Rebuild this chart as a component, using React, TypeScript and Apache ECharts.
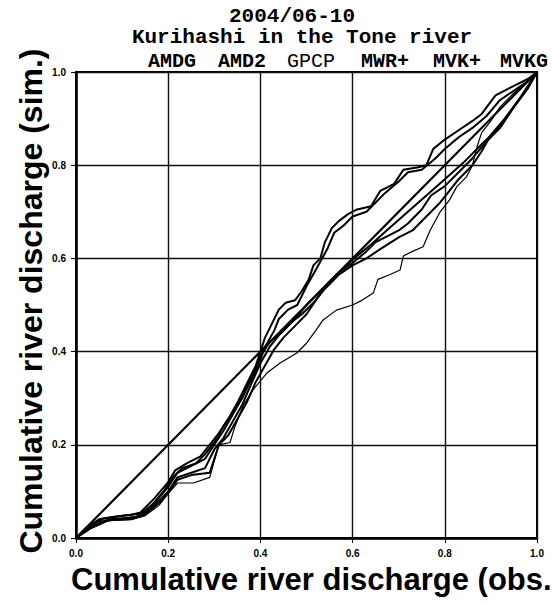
import React, { useEffect, useRef } from "react";
import * as echarts from "echarts";

type Pt = [number, number];

const titleLine1 = "2004/06-10";
const titleLine2 = "Kurihashi in the Tone river";
const xTitle = "Cumulative river discharge (obs.";
const yTitle = "Cumulative river discharge (sim.)";
const legendLabels = ["AMDG", "AMD2", "GPCP", "MWR+", "MVK+", "MVKG"];
const legendCenters = [172, 242, 311, 385, 457, 524];
const legendBold = [true, true, false, true, true, true];

const diagonal: Pt[] = [[0, 0], [1, 1]];

const amdg: Pt[] = [[0,0],[0.02,0.02],[0.05,0.04],[0.08,0.045],[0.12,0.05],[0.14,0.055],[0.17,0.085],[0.2,0.12],[0.215,0.145],[0.24,0.16],[0.27,0.175],[0.29,0.2],[0.31,0.225],[0.33,0.255],[0.35,0.29],[0.37,0.33],[0.39,0.37],[0.4,0.4],[0.41,0.43],[0.425,0.46],[0.44,0.49],[0.455,0.505],[0.475,0.51],[0.49,0.53],[0.505,0.555],[0.515,0.585],[0.53,0.6],[0.54,0.635],[0.555,0.665],[0.57,0.68],[0.59,0.695],[0.61,0.705],[0.64,0.712],[0.66,0.745],[0.69,0.76],[0.71,0.79],[0.74,0.795],[0.76,0.8],[0.775,0.835],[0.8,0.855],[0.83,0.875],[0.86,0.895],[0.88,0.91],[0.91,0.95],[0.95,0.97],[0.98,0.985],[1,1]];

const amd2: Pt[] = [[0,0],[0.02,0.015],[0.05,0.035],[0.09,0.04],[0.13,0.045],[0.16,0.065],[0.19,0.1],[0.21,0.13],[0.23,0.15],[0.26,0.16],[0.28,0.18],[0.3,0.205],[0.32,0.24],[0.34,0.27],[0.36,0.3],[0.38,0.34],[0.395,0.37],[0.41,0.41],[0.43,0.445],[0.44,0.47],[0.46,0.49],[0.48,0.5],[0.5,0.54],[0.52,0.575],[0.545,0.62],[0.56,0.655],[0.58,0.67],[0.6,0.69],[0.63,0.7],[0.65,0.72],[0.67,0.74],[0.7,0.765],[0.72,0.785],[0.75,0.79],[0.78,0.815],[0.8,0.835],[0.83,0.86],[0.86,0.88],[0.89,0.905],[0.92,0.94],[0.95,0.96],[0.98,0.98],[1,1]];

const gpcp: Pt[] = [[0,0],[0.03,0.02],[0.07,0.037],[0.12,0.04],[0.15,0.048],[0.18,0.07],[0.2,0.095],[0.22,0.118],[0.255,0.118],[0.29,0.13],[0.31,0.2],[0.334,0.205],[0.345,0.24],[0.363,0.285],[0.384,0.318],[0.414,0.354],[0.442,0.375],[0.479,0.397],[0.5,0.418],[0.52,0.445],[0.536,0.468],[0.565,0.489],[0.6,0.5],[0.62,0.51],[0.645,0.526],[0.655,0.555],[0.68,0.565],[0.703,0.575],[0.71,0.605],[0.73,0.615],[0.753,0.625],[0.768,0.66],[0.79,0.7],[0.81,0.725],[0.826,0.754],[0.847,0.775],[0.86,0.8],[0.87,0.84],[0.88,0.87],[0.9,0.895],[0.92,0.925],[0.95,0.955],[0.98,0.98],[1,1]];

const mwrp: Pt[] = [[0,0],[0.03,0.025],[0.06,0.042],[0.1,0.048],[0.14,0.052],[0.17,0.075],[0.2,0.11],[0.22,0.14],[0.25,0.155],[0.28,0.17],[0.3,0.2],[0.32,0.23],[0.34,0.265],[0.36,0.3],[0.38,0.345],[0.4,0.39],[0.42,0.42],[0.45,0.445],[0.48,0.475],[0.5,0.5],[0.53,0.53],[0.56,0.56],[0.6,0.597],[0.64,0.63],[0.68,0.665],[0.72,0.7],[0.76,0.735],[0.8,0.77],[0.84,0.805],[0.88,0.845],[0.92,0.883],[0.95,0.925],[0.98,0.965],[1,1]];

const mvkp: Pt[] = [[0,0],[0.03,0.02],[0.07,0.04],[0.11,0.043],[0.14,0.046],[0.17,0.07],[0.2,0.1],[0.22,0.13],[0.25,0.14],[0.28,0.15],[0.3,0.19],[0.32,0.215],[0.34,0.25],[0.36,0.285],[0.38,0.33],[0.4,0.375],[0.42,0.41],[0.44,0.435],[0.47,0.465],[0.49,0.48],[0.52,0.51],[0.54,0.54],[0.57,0.57],[0.6,0.59],[0.63,0.615],[0.65,0.635],[0.68,0.65],[0.7,0.66],[0.72,0.675],[0.75,0.705],[0.77,0.735],[0.8,0.755],[0.83,0.785],[0.86,0.815],[0.89,0.85],[0.92,0.88],[0.95,0.925],[0.98,0.965],[1,1]];

const mvkg: Pt[] = [[0,0],[0.03,0.02],[0.07,0.038],[0.12,0.04],[0.15,0.05],[0.18,0.075],[0.2,0.097],[0.22,0.125],[0.25,0.135],[0.29,0.14],[0.31,0.2],[0.33,0.22],[0.35,0.255],[0.37,0.29],[0.39,0.335],[0.41,0.37],[0.43,0.405],[0.45,0.43],[0.48,0.46],[0.5,0.48],[0.52,0.51],[0.54,0.535],[0.57,0.565],[0.6,0.585],[0.63,0.6],[0.66,0.62],[0.7,0.645],[0.73,0.66],[0.76,0.69],[0.79,0.72],[0.81,0.745],[0.83,0.77],[0.86,0.8],[0.88,0.83],[0.9,0.865],[0.93,0.9],[0.96,0.94],[0.98,0.97],[1,1]];

const seriesData: Pt[][] = [amdg, amd2, gpcp, mwrp, mvkp, mvkg];
const seriesWidths = [2, 2, 1.2, 2, 2, 2];

const MONO = "'Liberation Mono', 'DejaVu Sans Mono', monospace";
const SANS = "'Liberation Sans', Arial, sans-serif";

export default function App() {
  const ref = useRef<HTMLDivElement>(null);
  useEffect(() => {
    document.body.style.margin = "0";
    if (!ref.current) return;
    const chart = echarts.init(ref.current, undefined, { renderer: "svg" });
    const axisCommon = {
      type: "value" as const,
      min: 0,
      max: 1,
      interval: 0.2,
      axisLine: { show: true, lineStyle: { color: "#000", width: 2.5 } },
      axisTick: { show: true, inside: false, length: 5, lineStyle: { color: "#000", width: 1 } },
      splitLine: { show: true, lineStyle: { color: "#111", width: 1.4 } },
      axisLabel: {
        color: "#000",
        fontSize: 10,
        fontWeight: "bold" as const,
        fontFamily: SANS,
        formatter: (v: number) => v.toFixed(1),
      },
    };
    const graphic: any[] = [
      {
        type: "text",
        x: 292,
        y: 16,
        style: { text: titleLine1, font: `bold 21px ${MONO}`, fill: "#000", align: "center", verticalAlign: "middle" },
      },
      {
        type: "text",
        x: 302,
        y: 37,
        style: { text: titleLine2, font: `bold 21px ${MONO}`, fill: "#000", align: "center", verticalAlign: "middle" },
      },
      {
        type: "text",
        x: 71,
        y: 579,
        style: { text: xTitle, font: `bold 31px ${SANS}`, fill: "#000", align: "left", verticalAlign: "middle" },
      },
      {
        type: "text",
        x: 31,
        y: 301,
        rotation: Math.PI / 2,
        style: { text: yTitle, font: `bold 32px ${SANS}`, fill: "#000", align: "center", verticalAlign: "middle" },
      },
    ];
    legendLabels.forEach((lab, i) => {
      graphic.push({
        type: "text",
        x: legendCenters[i],
        y: 61,
        style: {
          text: lab,
          font: `${legendBold[i] ? "bold " : ""}20px ${MONO}`,
          fill: "#000",
          align: "center",
          verticalAlign: "middle",
        },
      });
    });
    chart.setOption({
      animation: false,
      backgroundColor: "#fff",
      grid: { left: 76, right: 16, top: 72, bottom: 65, show: true, borderColor: "#000", borderWidth: 2, backgroundColor: "transparent" },
      xAxis: { ...axisCommon, axisLabel: { ...axisCommon.axisLabel, margin: 10 } },
      yAxis: { ...axisCommon, axisLabel: { ...axisCommon.axisLabel, margin: 10 } },
      graphic,
      series: [
        {
          type: "line",
          name: "1:1",
          data: diagonal,
          showSymbol: false,
          lineStyle: { color: "#000", width: 2.2 },
          z: 3,
        },
        ...seriesData.map((d, i) => ({
          type: "line",
          name: legendLabels[i],
          data: d,
          showSymbol: false,
          lineStyle: { color: "#000", width: seriesWidths[i] },
          z: 4,
        })),
      ],
    });
    return () => chart.dispose();
  }, []);
  return <div ref={ref} style={{ position: "absolute", left: 0, top: 0, width: 553, height: 603 }} />;
}
